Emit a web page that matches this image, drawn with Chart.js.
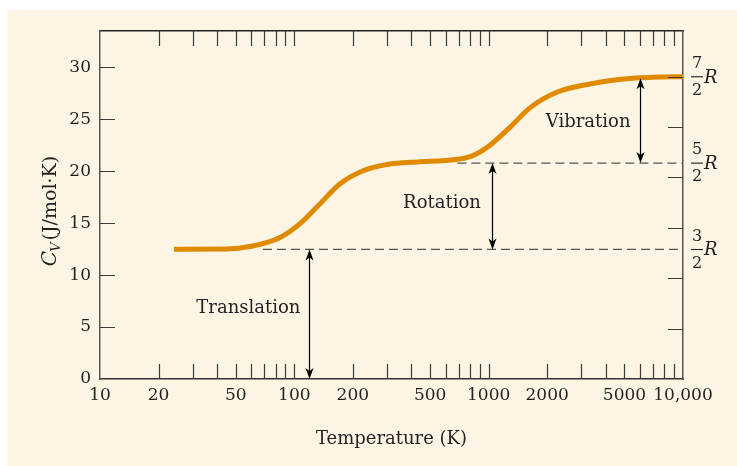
<!DOCTYPE html>
<html><head><meta charset="utf-8">
<script src="https://cdn.jsdelivr.net/npm/chart.js@4"></script>
<style>html,body{margin:0;padding:0;background:#fff}</style>
</head><body>
<canvas id="c" width="737" height="466"></canvas>
<script>
// ---- data ----
const temperatures = [24, 45, 59, 84, 107, 136, 172, 226, 300, 430, 600, 720, 830, 1000, 1290, 1630, 2240, 3320, 5130, 7500, 10000];
const heatCapacity = [12.5, 12.52, 12.75, 13.6, 14.95, 16.9, 18.8, 20.05, 20.65, 20.9, 21.03, 21.2, 21.5, 22.4, 24.25, 26.1, 27.6, 28.4, 28.9, 29.07, 29.1];
const R = 8.314;
const levelValues = [1.5 * R, 2.5 * R, 3.5 * R];
const levelNumerators = ['3', '5', '7'];
const levelDenominators = ['2', '2', '2'];
const dashedStartT = [69, 690];
const xTickValues = [10,20,30,40,50,60,70,80,90,100,200,300,400,500,600,700,800,900,1000,2000,3000,4000,5000,6000,7000,8000,9000,10000];
const xLabelValues = [10, 20, 50, 100, 200, 500, 1000, 2000, 5000, 10000];
const xLabelTexts = ['10', '20', '50', '100', '200', '500', '1000', '2000', '5000', '10,000'];
const yTickValues = [0, 5, 10, 15, 20, 25, 30];
const rightTickValues = [1,2,3,4,5,6].map(k => k * 7 * R / 12);
const arrowTemps = [119, 1040, 6000];
const arrowFrom = [0, levelValues[0], levelValues[1]];
const arrowTo = [levelValues[0], levelValues[1], 28.95];
const mechanismLabels = ['Translation', 'Rotation', 'Vibration'];
const labelTemps = [58, 575, 3250];
const labelCv = [6.8, 16.9, 24.7];

const FONT = '"DejaVu Serif", serif';
const INK = '#231f20';
const CREAM = '#fdf5e4';

const bgPlugin = {
  id: 'bg',
  beforeDraw(chart) {
    const c = chart.ctx;
    c.save();
    c.fillStyle = '#ffffff';
    c.fillRect(0, 0, chart.width, chart.height);
    c.fillStyle = CREAM;
    c.fillRect(7, 10, chart.width - 7, chart.height - 10);
    c.restore();
  }
};

const tickPlugin = {
  id: 'inwardTicks',
  afterDatasetsDraw(chart) {
    const c = chart.ctx, a = chart.chartArea, s = chart.scales;
    c.save();
    c.strokeStyle = '#3a3a3a';
    c.lineWidth = 1.2;
    c.beginPath();
    xTickValues.forEach(v => {
      if (v <= 10 || v >= 10000) return;
      const px = Math.round(s.x.getPixelForValue(v)) + 0.5;
      c.moveTo(px, a.bottom); c.lineTo(px, a.bottom - 15);
      c.moveTo(px, a.top); c.lineTo(px, a.top + 15);
    });
    yTickValues.forEach(v => {
      if (v === 0) return;
      const py = Math.round(s.y.getPixelForValue(v)) + 0.5;
      c.moveTo(a.left, py); c.lineTo(a.left + 15, py);
    });
    rightTickValues.forEach(v => {
      const py = Math.round(s.y2.getPixelForValue(v)) + 0.5;
      c.moveTo(a.right, py); c.lineTo(a.right - 15, py);
    });
    c.stroke();
    c.restore();
  }
};

function arrowHead(c, x, y, dir) {
  c.beginPath();
  c.moveTo(x, y);
  c.lineTo(x - 4, y - dir * 11);
  c.lineTo(x, y - dir * 8);
  c.lineTo(x + 4, y - dir * 11);
  c.closePath();
  c.fill();
}

const annotPlugin = {
  id: 'annot',
  afterDraw(chart) {
    const c = chart.ctx, a = chart.chartArea, s = chart.scales;
    c.save();
    c.strokeStyle = '#000'; c.fillStyle = '#000'; c.lineWidth = 1.2;
    arrowTemps.forEach((t, i) => {
      const x = Math.round(s.x.getPixelForValue(t)) + 0.5;
      const y1 = s.y.getPixelForValue(arrowFrom[i]);
      const y2 = s.y.getPixelForValue(arrowTo[i]);
      c.beginPath(); c.moveTo(x, y1 - 6); c.lineTo(x, y2 + 6); c.stroke();
      arrowHead(c, x, y1, 1);
      arrowHead(c, x, y2, -1);
    });
    c.fillStyle = INK;
    c.font = '18px ' + FONT;
    c.textAlign = 'center'; c.textBaseline = 'middle';
    mechanismLabels.forEach((txt, i) => {
      c.fillText(txt, s.x.getPixelForValue(labelTemps[i]), s.y.getPixelForValue(labelCv[i]));
    });
    levelValues.forEach((v, i) => {
      const y = s.y2.getPixelForValue(v);
      const xc = a.right + 14;
      c.font = '16px ' + FONT;
      c.textAlign = 'center'; c.textBaseline = 'middle';
      c.fillText(levelNumerators[i], xc, y - 13);
      c.fillText(levelDenominators[i], xc, y + 14);
      c.fillRect(xc - 6, y - 0.5, 12, 1.1);
      c.font = 'italic 18px ' + FONT;
      c.textAlign = 'left'; c.textBaseline = 'alphabetic';
      c.fillText('R', a.right + 21, y + 6);
    });
    c.save();
    c.translate(56, (a.top + a.bottom) / 2 + 6);
    c.rotate(-Math.PI / 2);
    c.textBaseline = 'alphabetic'; c.textAlign = 'left';
    const f1 = 'italic 20px ' + FONT, f2 = 'italic 13px ' + FONT, f3 = '19px ' + FONT;
    c.font = f1; const w1 = c.measureText('C').width;
    c.font = f2; const w2 = c.measureText('V').width;
    c.font = f3; const w3 = c.measureText('(J/mol·K)').width;
    let x0 = -(w1 + w2 + w3 + 1) / 2;
    c.font = f1; c.fillText('C', x0, 0); x0 += w1 - 1;
    c.font = f2; c.fillText('V', x0, 4); x0 += w2 + 2;
    c.font = f3; c.fillText('(J/mol·K)', x0, 0);
    c.restore();
    c.restore();
  }
};

const ctx = document.getElementById('c').getContext('2d');
new Chart(ctx, {
  type: 'line',
  data: {
    datasets: [
      {
        data: temperatures.map((t, i) => ({ x: t, y: heatCapacity[i] })),
        borderColor: '#e08a00', borderWidth: 5, pointRadius: 0,
        cubicInterpolationMode: 'monotone', fill: false, order: 0, borderCapStyle: 'butt', borderJoinStyle: 'round'
      },
      {
        data: [{ x: dashedStartT[0], y: levelValues[0] }, { x: 10000, y: levelValues[0] }],
        borderColor: '#555', borderWidth: 1.2, borderDash: [9, 5], pointRadius: 0, fill: false, order: 1
      },
      {
        data: [{ x: dashedStartT[1], y: levelValues[1] }, { x: 10000, y: levelValues[1] }],
        borderColor: '#555', borderWidth: 1.2, borderDash: [9, 5], pointRadius: 0, fill: false, order: 1
      }
    ]
  },
  options: {
    responsive: false, animation: false, devicePixelRatio: 1,
    layout: { padding: 0 },
    plugins: { legend: { display: false }, tooltip: { enabled: false } },
    scales: {
      x: {
        type: 'logarithmic', position: 'bottom', min: 10, max: 10000,
        afterBuildTicks: sc => { sc.ticks = xTickValues.map(v => ({ value: v })); },
        ticks: {
          autoSkip: false, maxRotation: 0, minRotation: 0, padding: 6, color: INK,
          font: { family: FONT, size: 17 },
          callback: v => { const i = xLabelValues.indexOf(v); return i >= 0 ? xLabelTexts[i] : ''; }
        },
        grid: { display: false, drawTicks: false },
        border: { display: true, color: '#333', width: 1.5 },
        title: { display: true, text: 'Temperature (K)', color: INK, font: { family: FONT, size: 18 }, padding: { top: 0, bottom: 16 } },
        afterFit: sc => { sc.height = 87; }
      },
      x2: {
        type: 'logarithmic', position: 'top', min: 10, max: 10000,
        ticks: { display: false },
        grid: { display: false, drawTicks: false },
        border: { display: true, color: '#222', width: 1.5 },
        afterFit: sc => { sc.height = 31; }
      },
      y: {
        type: 'linear', position: 'left', min: 0, max: 33.5,
        afterBuildTicks: sc => { sc.ticks = yTickValues.map(v => ({ value: v })); },
        ticks: { padding: 9, color: INK, font: { family: FONT, size: 17 } },
        grid: { display: false, drawTicks: false },
        border: { display: true, color: '#555', width: 1.5 },
        afterFit: sc => { sc.width = 100; }
      },
      y2: {
        type: 'linear', position: 'right', min: 0, max: 33.5,
        afterBuildTicks: sc => { sc.ticks = rightTickValues.map(v => ({ value: v })); },
        ticks: { display: false },
        grid: { display: false, drawTicks: false },
        border: { display: true, color: '#555', width: 1.5 },
        afterFit: sc => { sc.width = 54; }
      }
    }
  },
  plugins: [bgPlugin, tickPlugin, annotPlugin]
});
</script>
</body></html>
